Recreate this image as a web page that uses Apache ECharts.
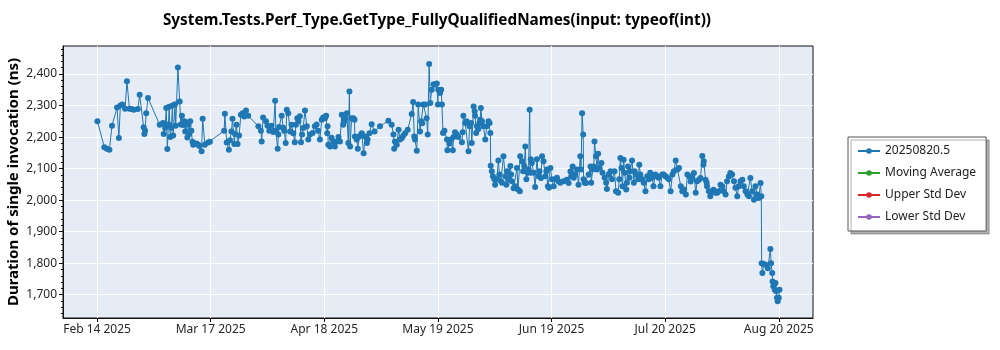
<!DOCTYPE html>
<html>
<head>
<meta charset="utf-8">
<script src="https://cdn.jsdelivr.net/npm/echarts@6/dist/echarts.min.js"></script>
<style>
html,body{margin:0;padding:0;background:#fff;}
#chart{width:1000px;height:350px;}
</style>
</head>
<body>
<div id="chart"></div>
<script>
// x values: days after the first x tick (~Feb 14 2025)
const tickLabels = ["Feb 14 2025","Mar 17 2025","Apr 18 2025","May 19 2025","Jun 19 2025","Jul 20 2025","Aug 20 2025"];
const tickStepDays = 31.2;
const yTicks = [1700,1800,1900,2000,2100,2200,2300,2400];
const seriesNames = ["20250820.5","Moving Average","Upper Std Dev","Lower Std Dev"];
const seriesColors = ["#1f77b4","#2ca02c","#d62728","#9467bd"];

const days = [
0.1,2.0,2.7,3.4,4.1,5.5,6.0,6.4,6.9,7.7,8.2,8.9,9.5,10.1,11.2,11.7,12.8,13.0,13.2,13.5,14.0,
17.2,18.1,18.3,18.7,19.0,19.3,19.6,19.8,20.1,20.4,20.7,20.9,21.4,21.6,22.2,22.7,23.0,23.3,23.6,24.0,24.2,24.5,24.8,25.1,25.3,25.6,25.9,26.2,26.4,26.9,27.3,27.8,28.1,28.7,29.0,29.6,30.5,31.0,
34.9,35.1,35.6,36.2,36.5,36.9,37.2,37.7,37.9,38.3,38.6,39.0,39.5,40.0,40.4,40.9,41.5,
44.3,45.0,45.2,45.6,46.4,46.8,47.3,47.9,48.4,48.9,49.1,49.6,49.8,50.0,50.7,51.1,51.4,51.8,52.1,52.5,53.0,53.4,53.9,54.3,54.6,55.0,55.3,55.7,56.0,56.3,56.6,57.1,57.6,58.0,58.5,59.2,59.8,
60.3,60.7,61.2,61.7,62.1,62.6,62.9,63.2,63.3,63.5,64.0,64.4,64.9,65.3,65.8,66.3,66.7,67.2,67.6,67.9,68.1,68.6,69.0,69.3,69.5,69.9,70.4,70.7,70.8,71.3,71.6,72.0,72.5,72.7,73.2,73.6,74.1,74.3,74.8,75.4,76.2,77.7,
80.0,80.9,81.4,81.6,81.8,82.3,82.8,83.2,83.7,84.1,84.6,85.3,86.4,86.8,87.1,87.3,87.8,88.2,88.7,89.0,89.3,89.6,90.1,90.5,90.8,91.2,91.5,91.9,92.4,92.8,93.3,93.6,93.7,94.2,94.5,94.7,
95.0,95.4,96.1,96.2,96.8,97.2,97.7,97.9,98.3,98.8,99.2,100.2,100.4,100.6,101.1,101.5,102.0,102.3,102.7,102.9,103.4,103.7,103.8,104.1,104.3,104.7,105.0,105.2,105.4,105.7,106.1,106.6,107.0,107.5,107.8,108.0,
108.1,108.4,108.7,109.1,109.3,109.8,110.2,110.5,110.9,111.2,111.6,112.1,112.4,112.6,113.0,113.5,113.7,113.9,114.4,114.9,115.3,115.6,116.1,116.2,116.7,117.0,117.3,117.6,117.9,118.2,118.5,118.8,119.0,119.1,119.4,119.9,
120.3,120.8,121.2,121.5,121.9,122.2,122.6,123.1,123.4,123.5,123.8,124.1,124.5,124.9,125.4,125.8,126.3,126.7,127.2,128.1,129.0,129.5,130.0,130.2,130.6,130.9,131.3,131.8,132.2,132.7,132.9,133.2,133.5,133.6,133.9,134.3,
135.0,135.5,135.7,136.1,136.4,136.6,137.0,137.3,137.6,137.9,138.5,138.8,139.4,139.8,140.0,140.5,141.0,141.4,142.1,142.5,143.1,143.4,143.7,144.0,144.3,144.6,144.9,145.3,145.5,145.8,146.2,146.4,146.9,147.4,147.6,148.0,
148.6,148.9,149.2,149.7,150.1,150.6,151.1,151.5,151.9,152.4,152.8,153.3,153.8,154.2,154.7,155.2,155.6,156.1,156.6,157.0,157.5,158.0,158.4,158.9,159.4,159.8,160.3,160.7,161.2,161.7,162.1,162.6,
163.0,163.5,163.9,164.4,164.8,165.3,165.7,166.2,166.5,166.6,167.1,167.4,167.5,168.0,168.4,168.9,169.3,169.8,170.3,170.7,171.2,171.7,172.1,172.6,173.0,173.5,173.9,174.4,174.9,175.3,175.8,176.2,176.7,177.2,177.6,178.1,
178.6,179.0,179.4,179.9,180.4,180.8,181.3,181.7,182.2,182.4,182.5,182.7,183.1,183.6,184.2,184.9,185.1,185.4,185.5,185.7,185.9,186.1,186.3,186.5,186.7,186.9,187.2,187.4
];
const durations = [
2250,2168,2163,2160,2236,2294,2197,2300,2303,2290,2377,2290,2289,2287,2289,2334,2231,2210,2220,2276,2324,
2239,2245,2210,2230,2292,2162,2240,2296,2200,2230,2300,2205,2304,2236,2421,2313,2240,2268,2238,2250,2218,2246,2199,2240,2210,2250,2220,2185,2176,2178,2180,2176,2172,2155,2258,2176,2183,2185,
2220,2274,2183,2160,2190,2218,2258,2178,2210,2239,2178,2205,2271,2276,2265,2284,2268,
2234,2220,2186,2262,2250,2236,2220,2236,2216,2315,2220,2163,2208,2232,2268,2230,2220,2181,2287,2276,2218,2239,2212,2184,2239,2260,2250,2266,2184,2208,2229,2284,2234,2192,2208,2213,2234,
2240,2220,2192,2255,2262,2260,2268,2212,2234,2176,2170,2198,2186,2170,2186,2200,2186,2271,2239,2250,2260,2276,2181,2345,2170,2260,2260,2255,2202,2192,2163,2202,2208,2212,2149,2202,2181,2192,2212,2241,2218,2234,
2252,2239,2208,2163,2186,2176,2223,2192,2197,2205,2212,2223,2273,2311,2202,2192,2157,2303,2218,2250,2244,2303,2303,2260,2208,2432,2308,2350,2368,2366,2370,2303,2350,2340,2350,2303,
2213,2220,2192,2158,2180,2192,2158,2200,2215,2208,2200,2184,2215,2268,2245,2250,2155,2234,2245,2181,2297,2282,2268,2213,2234,2226,2245,2255,2292,2250,2234,2192,2234,2250,2245,2213,
2109,2092,2076,2066,2049,2066,2126,2081,2060,2055,2139,2076,2049,2092,2066,2108,2081,2060,2038,2044,2102,2034,2028,2139,2123,2092,2108,2170,2066,2087,2098,2287,2087,2130,2118,2087,
2042,2130,2076,2092,2070,2139,2123,2076,2092,2097,2044,2039,2102,2066,2044,2066,2071,2060,2055,2060,2065,2054,2091,2075,2107,2071,2081,2097,2049,2139,2097,2276,2208,2066,2055,2054,
2081,2107,2055,2097,2107,2186,2139,2097,2147,2102,2118,2087,2071,2055,2035,2081,2092,2066,2092,2028,2023,2066,2134,2102,2044,2128,2087,2034,2055,2107,2071,2092,2126,2055,2092,2081,
2066,2112,2081,2066,2055,2028,2076,2066,2087,2071,2044,2081,2076,2071,2044,2081,2081,2076,2071,2066,2028,2081,2092,2126,2097,2102,2044,2028,2034,2018,2081,2076,
2059,2070,2086,2023,2060,2065,2070,2140,2112,2123,2065,2055,2044,2028,2012,2028,2033,2023,2023,2028,2049,2044,2028,2018,2060,2075,2086,2081,2060,2039,2012,2044,2060,2065,2044,2028,
2018,2012,2070,2028,2001,2044,2018,2007,2054,2012,1800,1769,1797,1795,1784,1845,1800,1769,1742,1727,1732,1716,1737,1711,1690,1679,1690,1716
];

const chart = echarts.init(document.getElementById('chart'), null, {renderer: 'canvas'});
const FONT = 'Noto Sans';
const mainData = days.map((d, i) => [d, durations[i]]);
const xTicks = tickLabels.map((_, k) => +(k * tickStepDays).toFixed(3));
const yMinorTicks = [];
for (let v = 1640; v <= 2480; v += 20) yMinorTicks.push(v);

const series = seriesNames.map((name, i) => ({
  name: name,
  type: 'line',
  data: i === 0 ? mainData : [],
  color: seriesColors[i],
  symbol: 'circle',
  symbolSize: 6,
  showSymbol: true,
  showAllSymbol: true,
  lineStyle: {width: 1, color: seriesColors[i]},
  itemStyle: {color: seriesColors[i]},
  animation: false
}));

const yMin = 1626, yMax = 2489;

chart.setOption({
  animation: false,
  backgroundColor: '#ffffff',
  title: {
    text: 'System.Tests.Perf_Type.GetType_FullyQualifiedNames(input: typeof(int))',
    left: 432,
    top: 8,
    textAlign: 'center',
    textStyle: {fontFamily: FONT, fontSize: 15.3, fontWeight: 'bold', color: '#000'}
  },
  legend: {
    orient: 'vertical',
    left: 848,
    top: 137,
    padding: [7, 10, 7, 9],
    itemGap: 8,
    itemWidth: 22,
    itemHeight: 7,
    backgroundColor: '#ffffff',
    borderColor: '#555',
    borderWidth: 1,
    borderRadius: 0,
    shadowColor: 'rgba(0,0,0,0.3)',
    shadowBlur: 0,
    shadowOffsetX: 3,
    shadowOffsetY: 3,
    textStyle: {fontFamily: FONT, fontSize: 12, lineHeight: 14, color: '#222'},
    data: seriesNames
  },
  grid: {
    left: 63, right: 187, top: 46, bottom: 32,
    containLabel: false,
    outerBoundsMode: 'none',
    show: true,
    backgroundColor: '#e5ecf6',
    borderColor: '#111',
    borderWidth: 1
  },
  xAxis: {
    type: 'value',
    min: -9.35,
    max: 196.6,
    axisLine: {show: true, onZero: false, lineStyle: {color: '#111', width: 1}},
    axisTick: {show: true, length: 4, customValues: xTicks, lineStyle: {color: '#111'}},
    splitLine: {show: true, lineStyle: {color: '#ffffff', width: 1}},
    axisLabel: {
      customValues: xTicks,
      fontFamily: FONT, fontSize: 12, color: '#262626', margin: 6,
      formatter: function (v) {
        const k = Math.round(v / tickStepDays);
        return tickLabels[k] || '';
      }
    }
  },
  yAxis: [{
    type: 'value',
    min: yMin,
    max: yMax,
    axisLine: {show: true, onZero: false, lineStyle: {color: '#111', width: 1}},
    axisTick: {show: true, length: 4, customValues: yTicks, lineStyle: {color: '#111'}},
    splitLine: {show: true, lineStyle: {color: '#ffffff', width: 1}},
    axisLabel: {
      customValues: yTicks,
      fontFamily: FONT, fontSize: 12, color: '#262626', margin: 6,
      formatter: function (v) { return Number(v).toLocaleString('en-US'); }
    }
  }, {
    type: 'value',
    position: 'left',
    min: yMin,
    max: yMax,
    name: 'Duration of single invocation (ns)',
    nameLocation: 'middle',
    nameGap: 42,
    nameMoveOverlap: false,
    nameTextStyle: {fontFamily: FONT, fontSize: 15, fontWeight: 'bold', color: '#000'},
    axisLine: {show: false, onZero: false},
    axisTick: {show: true, length: 2, customValues: yMinorTicks, lineStyle: {color: '#111'}},
    splitLine: {show: false},
    axisLabel: {show: false}
  }],
  series: series
});
</script>
</body>
</html>
